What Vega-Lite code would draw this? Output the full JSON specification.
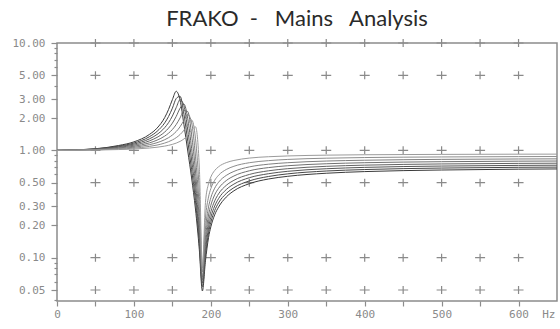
{
"$schema": "https://vega.github.io/schema/vega-lite/v6.json",
"width": 500, "height": 258,
"autosize": "none",
"padding": {"left": 57, "top": 43, "right": 3, "bottom": 28},
"background": "white",
"title": {"text": "FRAKO\u00a0\u00a0-\u00a0\u00a0\u00a0Mains\u00a0\u00a0\u00a0Analysis", "font": "Lato", "fontSize": 22, "fontWeight": "normal", "color": "#2a2a2a", "anchor": "middle", "frame": "group", "baseline": "alphabetic", "offset": 17, "dx": -10, "dy": 28},
"config": {"view": {"stroke": "#8c8c8c", "strokeWidth": 1.5}},
"datasets": {
"crosses": [
{"f":50,"v":10},{"f":100,"v":10},{"f":150,"v":10},{"f":200,"v":10},{"f":250,"v":10},{"f":300,"v":10},{"f":350,"v":10},{"f":400,"v":10},{"f":450,"v":10},{"f":500,"v":10},{"f":550,"v":10},{"f":600,"v":10},
{"f":50,"v":5},{"f":100,"v":5},{"f":150,"v":5},{"f":200,"v":5},{"f":250,"v":5},{"f":300,"v":5},{"f":350,"v":5},{"f":400,"v":5},{"f":450,"v":5},{"f":500,"v":5},{"f":550,"v":5},{"f":600,"v":5},
{"f":50,"v":1},{"f":100,"v":1},{"f":150,"v":1},{"f":200,"v":1},{"f":250,"v":1},{"f":300,"v":1},{"f":350,"v":1},{"f":400,"v":1},{"f":450,"v":1},{"f":500,"v":1},{"f":550,"v":1},{"f":600,"v":1},
{"f":50,"v":0.5},{"f":100,"v":0.5},{"f":150,"v":0.5},{"f":200,"v":0.5},{"f":250,"v":0.5},{"f":300,"v":0.5},{"f":350,"v":0.5},{"f":400,"v":0.5},{"f":450,"v":0.5},{"f":500,"v":0.5},{"f":550,"v":0.5},{"f":600,"v":0.5},
{"f":50,"v":0.1},{"f":100,"v":0.1},{"f":150,"v":0.1},{"f":200,"v":0.1},{"f":250,"v":0.1},{"f":300,"v":0.1},{"f":350,"v":0.1},{"f":400,"v":0.1},{"f":450,"v":0.1},{"f":500,"v":0.1},{"f":550,"v":0.1},{"f":600,"v":0.1},
{"f":50,"v":0.05},{"f":100,"v":0.05},{"f":150,"v":0.05},{"f":200,"v":0.05},{"f":250,"v":0.05},{"f":300,"v":0.05},{"f":350,"v":0.05},{"f":400,"v":0.05},{"f":450,"v":0.05},{"f":500,"v":0.05},{"f":550,"v":0.05},{"f":600,"v":0.05}
],
"curves": [
{"c":0,"f":0,"v":1.0},{"c":0,"f":50,"v":1.035},{"c":0,"f":80,"v":1.109},{"c":0,"f":100,"v":1.2},{"c":0,"f":120,"v":1.404},{"c":0,"f":130,"v":1.61},{"c":0,"f":140,"v":2.02},{"c":0,"f":145,"v":2.4},{"c":0,"f":150,"v":2.97},{"c":0,"f":155,"v":3.55},{"c":0,"f":160,"v":2.93},{"c":0,"f":165,"v":1.74},{"c":0,"f":170,"v":0.985},{"c":0,"f":175,"v":0.553},{"c":0,"f":180,"v":0.284},{"c":0,"f":185,"v":0.119},{"c":0,"f":189,"v":0.049},{"c":0,"f":193,"v":0.0935},{"c":0,"f":197,"v":0.154},{"c":0,"f":200,"v":0.194},{"c":0,"f":205,"v":0.251},{"c":0,"f":210,"v":0.296},{"c":0,"f":220,"v":0.367},{"c":0,"f":230,"v":0.42},{"c":0,"f":250,"v":0.489},{"c":0,"f":275,"v":0.541},{"c":0,"f":300,"v":0.573},{"c":0,"f":350,"v":0.612},{"c":0,"f":400,"v":0.634},{"c":0,"f":500,"v":0.656},{"c":0,"f":600,"v":0.668},{"c":0,"f":650,"v":0.671},
{"c":1,"f":0,"v":1.0},{"c":1,"f":50,"v":1.031},{"c":1,"f":80,"v":1.095},{"c":1,"f":100,"v":1.17},{"c":1,"f":120,"v":1.338},{"c":1,"f":130,"v":1.501},{"c":1,"f":140,"v":1.802},{"c":1,"f":145,"v":2.065},{"c":1,"f":150,"v":2.47},{"c":1,"f":155,"v":3.04},{"c":1,"f":160,"v":3.19},{"c":1,"f":165,"v":2.17},{"c":1,"f":170,"v":1.216},{"c":1,"f":175,"v":0.66},{"c":1,"f":180,"v":0.34},{"c":1,"f":185,"v":0.135},{"c":1,"f":189,"v":0.0537},{"c":1,"f":193,"v":0.104},{"c":1,"f":197,"v":0.17},{"c":1,"f":200,"v":0.214},{"c":1,"f":205,"v":0.275},{"c":1,"f":210,"v":0.324},{"c":1,"f":220,"v":0.396},{"c":1,"f":230,"v":0.449},{"c":1,"f":250,"v":0.519},{"c":1,"f":275,"v":0.571},{"c":1,"f":300,"v":0.604},{"c":1,"f":350,"v":0.642},{"c":1,"f":400,"v":0.6625},{"c":1,"f":500,"v":0.684},{"c":1,"f":600,"v":0.695},{"c":1,"f":650,"v":0.698},
{"c":2,"f":0,"v":1.0},{"c":2,"f":50,"v":1.026},{"c":2,"f":80,"v":1.081},{"c":2,"f":100,"v":1.143},{"c":2,"f":120,"v":1.278},{"c":2,"f":130,"v":1.405},{"c":2,"f":140,"v":1.627},{"c":2,"f":145,"v":1.81},{"c":2,"f":150,"v":2.088},{"c":2,"f":155,"v":2.504},{"c":2,"f":160,"v":2.962},{"c":2,"f":165,"v":2.609},{"c":2,"f":170,"v":1.545},{"c":2,"f":175,"v":0.813},{"c":2,"f":180,"v":0.404},{"c":2,"f":185,"v":0.155},{"c":2,"f":189,"v":0.058},{"c":2,"f":193,"v":0.116},{"c":2,"f":197,"v":0.19},{"c":2,"f":200,"v":0.238},{"c":2,"f":205,"v":0.303},{"c":2,"f":210,"v":0.355},{"c":2,"f":220,"v":0.431},{"c":2,"f":230,"v":0.485},{"c":2,"f":250,"v":0.556},{"c":2,"f":275,"v":0.606},{"c":2,"f":300,"v":0.638},{"c":2,"f":350,"v":0.674},{"c":2,"f":400,"v":0.694},{"c":2,"f":500,"v":0.714},{"c":2,"f":600,"v":0.724},{"c":2,"f":650,"v":0.727},
{"c":3,"f":0,"v":1.0},{"c":3,"f":50,"v":1.022},{"c":3,"f":80,"v":1.068},{"c":3,"f":100,"v":1.117},{"c":3,"f":120,"v":1.224},{"c":3,"f":130,"v":1.32},{"c":3,"f":140,"v":1.481},{"c":3,"f":145,"v":1.609},{"c":3,"f":150,"v":1.793},{"c":3,"f":155,"v":2.072},{"c":3,"f":160,"v":2.469},{"c":3,"f":165,"v":2.698},{"c":3,"f":170,"v":1.967},{"c":3,"f":175,"v":1.04},{"c":3,"f":180,"v":0.496},{"c":3,"f":185,"v":0.182},{"c":3,"f":189,"v":0.0623},{"c":3,"f":193,"v":0.132},{"c":3,"f":197,"v":0.216},{"c":3,"f":200,"v":0.268},{"c":3,"f":205,"v":0.338},{"c":3,"f":210,"v":0.393},{"c":3,"f":220,"v":0.4716},{"c":3,"f":230,"v":0.526},{"c":3,"f":250,"v":0.596},{"c":3,"f":275,"v":0.645},{"c":3,"f":300,"v":0.675},{"c":3,"f":350,"v":0.7096},{"c":3,"f":400,"v":0.728},{"c":3,"f":500,"v":0.747},{"c":3,"f":600,"v":0.756},{"c":3,"f":650,"v":0.759},
{"c":4,"f":0,"v":1.0},{"c":4,"f":50,"v":1.018},{"c":4,"f":80,"v":1.054},{"c":4,"f":100,"v":1.092},{"c":4,"f":120,"v":1.173},{"c":4,"f":130,"v":1.244},{"c":4,"f":140,"v":1.357},{"c":4,"f":145,"v":1.444},{"c":4,"f":150,"v":1.564},{"c":4,"f":155,"v":1.741},{"c":4,"f":160,"v":2.006},{"c":4,"f":165,"v":2.349},{"c":4,"f":170,"v":2.299},{"c":4,"f":175,"v":1.394},{"c":4,"f":180,"v":0.642},{"c":4,"f":185,"v":0.222},{"c":4,"f":189,"v":0.066},{"c":4,"f":193,"v":0.153},{"c":4,"f":197,"v":0.25},{"c":4,"f":200,"v":0.308},{"c":4,"f":205,"v":0.385},{"c":4,"f":210,"v":0.442},{"c":4,"f":220,"v":0.5226},{"c":4,"f":230,"v":0.577},{"c":4,"f":250,"v":0.645},{"c":4,"f":275,"v":0.691},{"c":4,"f":300,"v":0.719},{"c":4,"f":350,"v":0.75},{"c":4,"f":400,"v":0.767},{"c":4,"f":500,"v":0.784},{"c":4,"f":600,"v":0.793},{"c":4,"f":650,"v":0.795},
{"c":5,"f":0,"v":1.0},{"c":5,"f":50,"v":1.014},{"c":5,"f":80,"v":1.042},{"c":5,"f":100,"v":1.069},{"c":5,"f":120,"v":1.129},{"c":5,"f":130,"v":1.178},{"c":5,"f":140,"v":1.256},{"c":5,"f":145,"v":1.312},{"c":5,"f":150,"v":1.389},{"c":5,"f":155,"v":1.498},{"c":5,"f":160,"v":1.659},{"c":5,"f":165,"v":1.9},{"c":5,"f":170,"v":2.156},{"c":5,"f":175,"v":1.808},{"c":5,"f":180,"v":0.882},{"c":5,"f":185,"v":0.286},{"c":5,"f":189,"v":0.0737},{"c":5,"f":193,"v":0.184},{"c":5,"f":197,"v":0.297},{"c":5,"f":200,"v":0.362},{"c":5,"f":205,"v":0.444},{"c":5,"f":210,"v":0.504},{"c":5,"f":220,"v":0.584},{"c":5,"f":230,"v":0.6365},{"c":5,"f":250,"v":0.701},{"c":5,"f":275,"v":0.743},{"c":5,"f":300,"v":0.767},{"c":5,"f":350,"v":0.795},{"c":5,"f":400,"v":0.809},{"c":5,"f":500,"v":0.824},{"c":5,"f":600,"v":0.831},{"c":5,"f":650,"v":0.833},
{"c":6,"f":0,"v":1.0},{"c":6,"f":50,"v":1.01},{"c":6,"f":80,"v":1.029},{"c":6,"f":100,"v":1.048},{"c":6,"f":120,"v":1.088},{"c":6,"f":130,"v":1.12},{"c":6,"f":140,"v":1.169},{"c":6,"f":145,"v":1.204},{"c":6,"f":150,"v":1.25},{"c":6,"f":155,"v":1.313},{"c":6,"f":160,"v":1.404},{"c":6,"f":165,"v":1.541},{"c":6,"f":170,"v":1.749},{"c":6,"f":175,"v":1.915},{"c":6,"f":180,"v":1.297},{"c":6,"f":185,"v":0.406},{"c":6,"f":189,"v":0.08},{"c":6,"f":193,"v":0.234},{"c":6,"f":197,"v":0.368},{"c":6,"f":200,"v":0.44},{"c":6,"f":205,"v":0.526},{"c":6,"f":210,"v":0.586},{"c":6,"f":220,"v":0.663},{"c":6,"f":230,"v":0.7106},{"c":6,"f":250,"v":0.767},{"c":6,"f":275,"v":0.802},{"c":6,"f":300,"v":0.823},{"c":6,"f":350,"v":0.845},{"c":6,"f":400,"v":0.857},{"c":6,"f":500,"v":0.868},{"c":6,"f":600,"v":0.874},{"c":6,"f":650,"v":0.876},
{"c":7,"f":0,"v":1.0},{"c":7,"f":50,"v":1.006},{"c":7,"f":80,"v":1.017},{"c":7,"f":100,"v":1.028},{"c":7,"f":120,"v":1.051},{"c":7,"f":130,"v":1.069},{"c":7,"f":140,"v":1.095},{"c":7,"f":145,"v":1.113},{"c":7,"f":150,"v":1.137},{"c":7,"f":155,"v":1.168},{"c":7,"f":160,"v":1.212},{"c":7,"f":165,"v":1.277},{"c":7,"f":170,"v":1.38},{"c":7,"f":175,"v":1.549},{"c":7,"f":180,"v":1.657},{"c":7,"f":185,"v":0.699},{"c":7,"f":189,"v":0.083},{"c":7,"f":193,"v":0.327},{"c":7,"f":197,"v":0.489},{"c":7,"f":200,"v":0.565},{"c":7,"f":205,"v":0.649},{"c":7,"f":210,"v":0.703},{"c":7,"f":220,"v":0.768},{"c":7,"f":230,"v":0.805},{"c":7,"f":250,"v":0.847},{"c":7,"f":275,"v":0.872},{"c":7,"f":300,"v":0.887},{"c":7,"f":350,"v":0.902},{"c":7,"f":400,"v":0.91},{"c":7,"f":500,"v":0.917},{"c":7,"f":600,"v":0.921},{"c":7,"f":650,"v":0.922}
]
},
"encoding": {
"x": {"field": "f", "type": "quantitative", "scale": {"domain": [0, 650], "nice": false},
 "axis": {"title": null, "values": [0,50,100,150,200,250,300,350,400,450,500,550,600], "domain": false, "grid": false, "tickSize": 5, "tickColor": "#8c8c8c", "tickWidth": 1.2,
  "labelExpr": "datum.value % 100 == 0 ? (datum.value == 600 ? '600\u00a0\u00a0Hz' : datum.label) : ''",
  "labelFont": "DejaVu Sans Mono", "labelFontSize": 11, "labelColor": "#8a8a8a", "labelPadding": 2, "labelOverlap": false, "labelFlush": false,
  "labelAlign": {"condition": {"test": "datum.value == 600", "value": "left"}, "value": "center"},
  "labelOffset": {"condition": {"test": "datum.value == 600", "value": -10}, "value": 0}}},
"y": {"field": "v", "type": "quantitative", "scale": {"type": "log", "domain": [0.0395, 10], "nice": false},
 "axis": {"title": null, "values": [0.04,0.05,0.06,0.07,0.08,0.09,0.1,0.2,0.3,0.4,0.5,0.6,0.7,0.8,0.9,1,2,3,4,5,6,7,8,9,10], "domain": false, "grid": false,
  "tickColor": "#8c8c8c", "tickWidth": 1.2,
  "tickSize": {"condition": {"test": "indexof([0.05,0.1,0.2,0.3,0.5,1,2,3,5,10], datum.value) >= 0", "value": 6}, "value": 3},
  "labelExpr": "indexof([0.05,0.1,0.2,0.3,0.5,1,2,3,5,10], datum.value) >= 0 ? format(datum.value, '.2f') : ''",
  "labelFont": "DejaVu Sans Mono", "labelFontSize": 11, "labelColor": "#8a8a8a", "labelPadding": 6, "labelOverlap": false, "labelFlush": false, "labelBound": false}}
},
"layer": [
{"data": {"name": "crosses"}, "mark": {"type": "point", "shape": "M-1,0H1M0,-0.8V0.8", "filled": false, "stroke": "#8a8a8a", "strokeWidth": 1.2, "size": 100, "opacity": 1}},
{"data": {"name": "curves"}, "mark": {"type": "line", "strokeWidth": 1, "interpolate": "monotone"},
 "encoding": {"color": {"field": "c", "type": "nominal", "legend": null, "scale": {"range": ["#3a3a3a", "#474747", "#555555", "#636363", "#717171", "#7f7f7f", "#8d8d8d", "#9b9b9b"]}}}}
]
}
